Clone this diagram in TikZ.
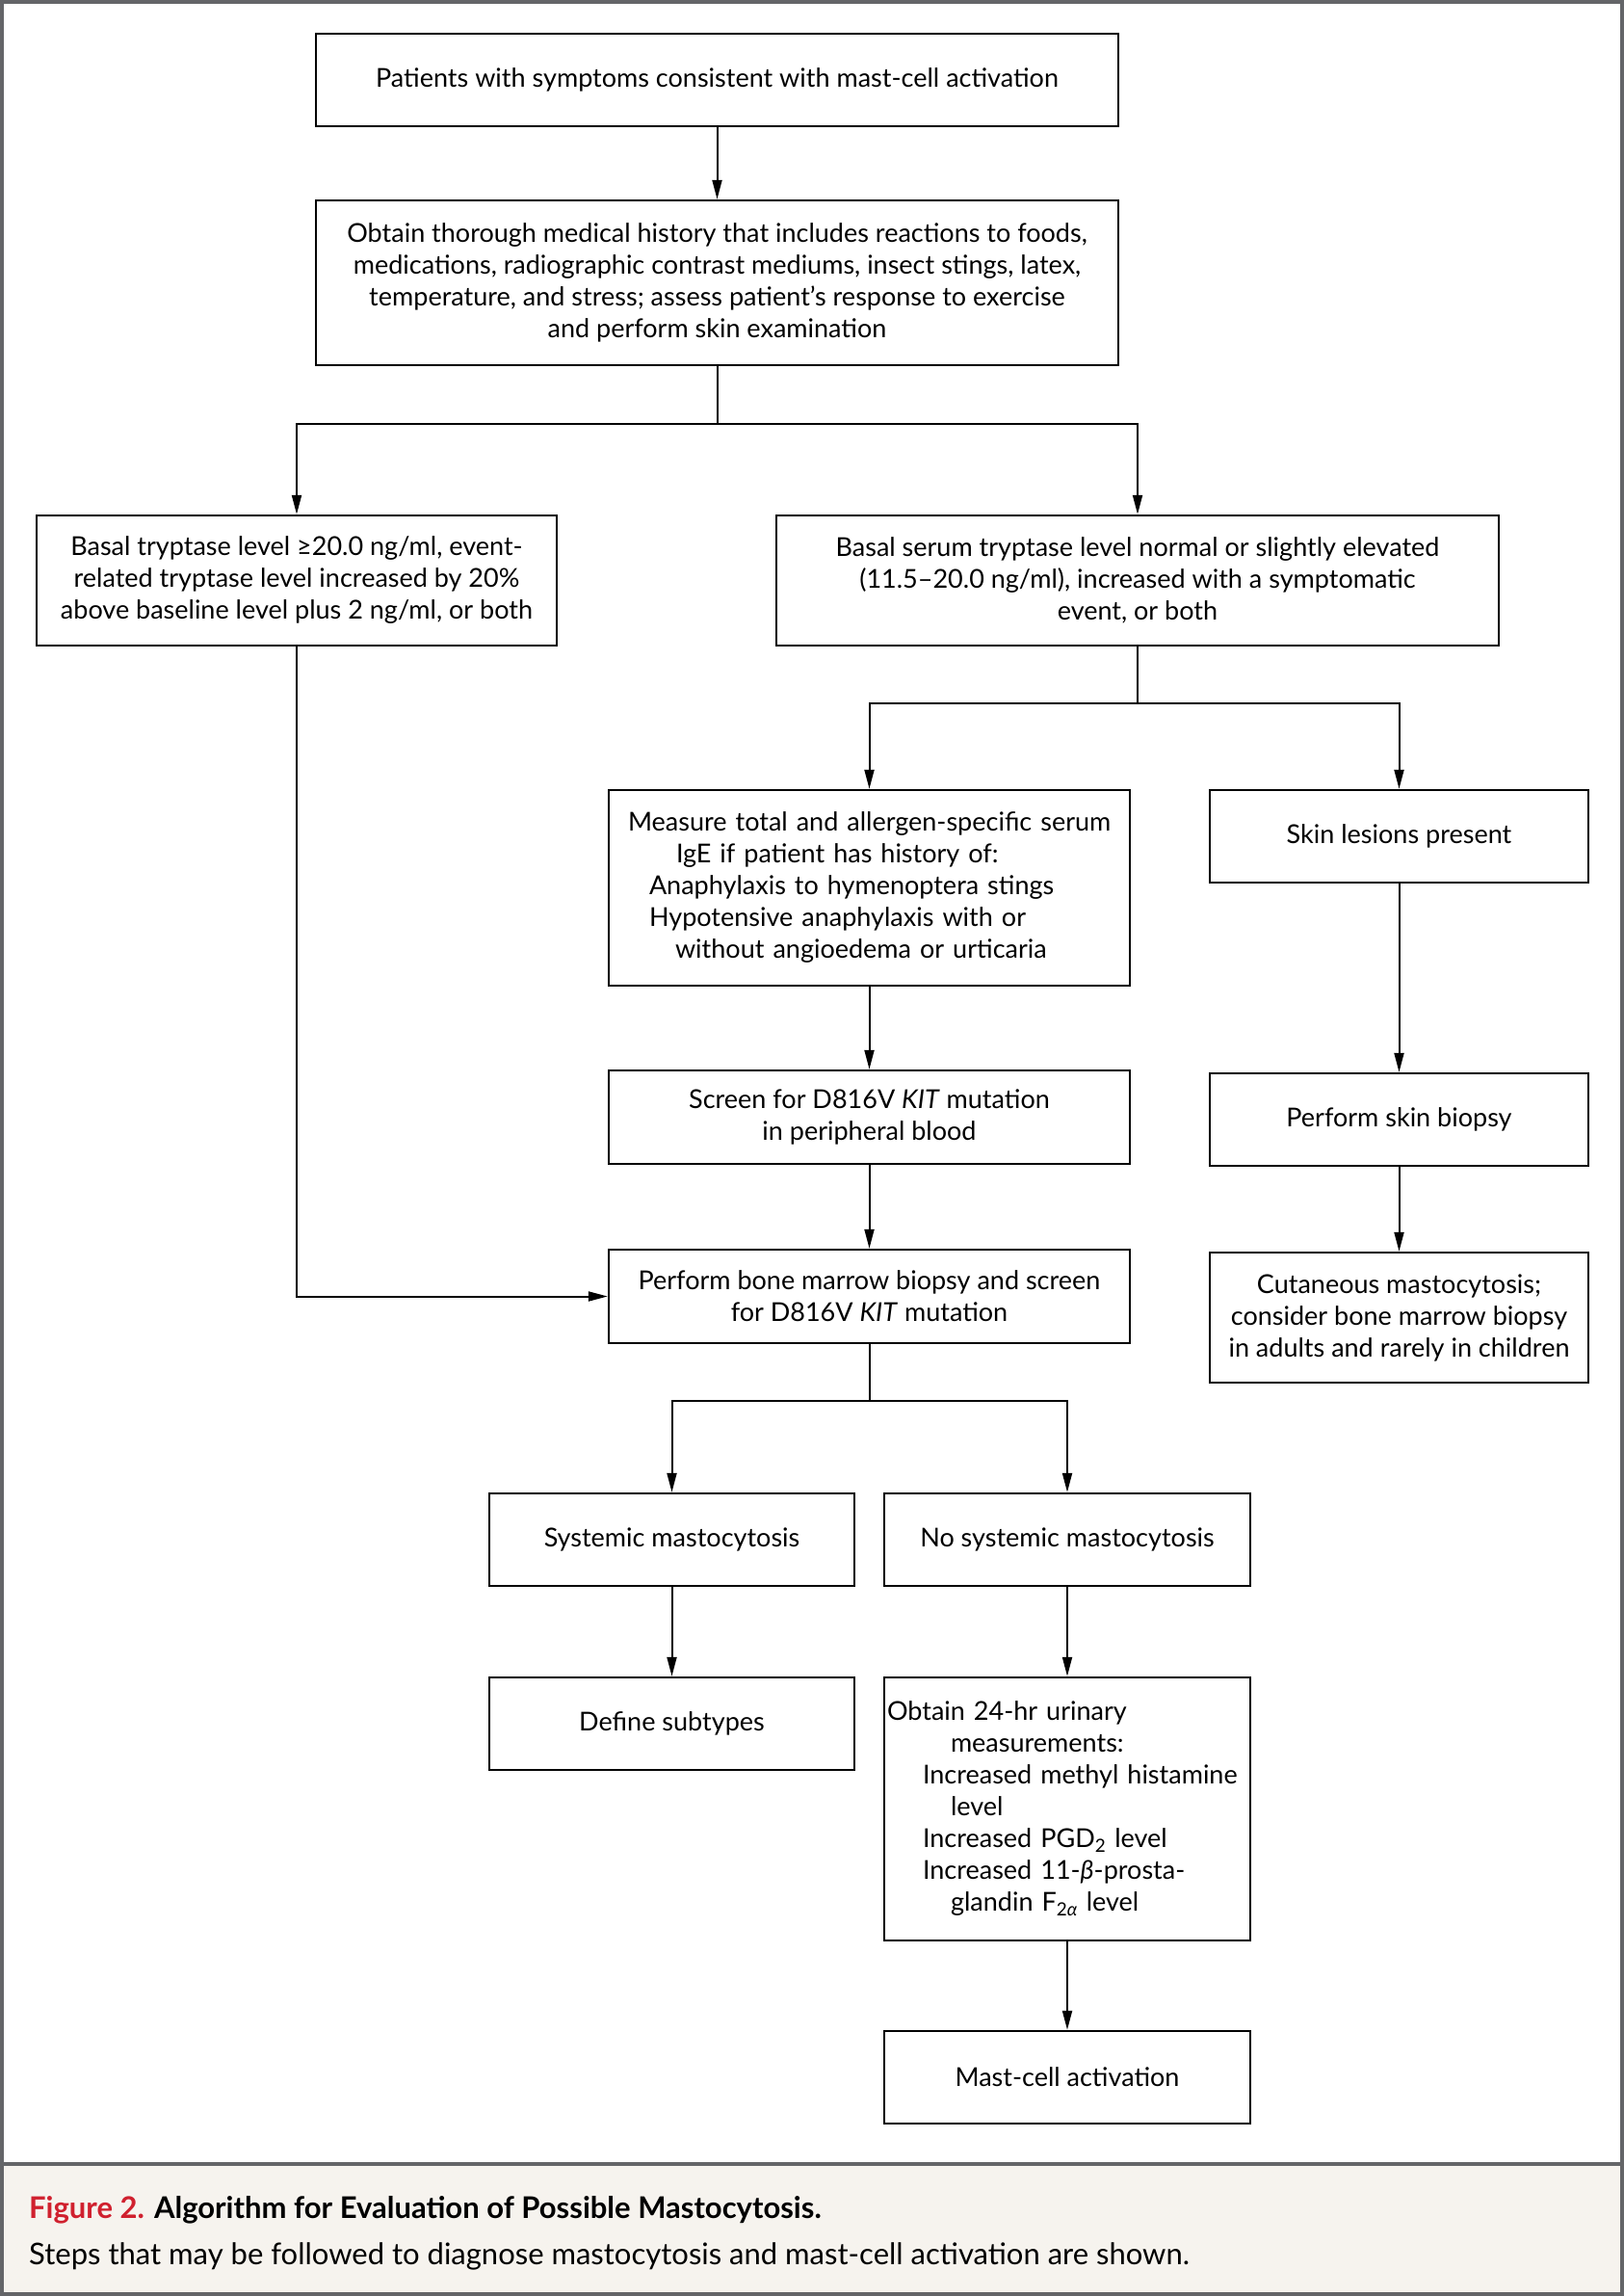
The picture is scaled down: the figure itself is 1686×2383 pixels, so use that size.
\documentclass[tikz,border=0pt]{standalone}
\usepackage{fontspec}
\setmainfont{Lato}
\usetikzlibrary{arrows.meta}
\definecolor{framegrey}{HTML}{646568}
\definecolor{capbg}{HTML}{F6F3EE}
\definecolor{nejmred}{HTML}{D0202E}
\begin{document}
\begin{tikzpicture}[x=1pt,y=-1pt,
  box/.style={draw=black, line width=2.4pt, rectangle, inner sep=0pt, align=center,
    font=\fontsize{27}{33}\selectfont},
  conn/.style={line width=2pt},
  arr/.style={line width=2pt, -{Triangle[length=20pt,width=10pt]}},
  captext/.style={anchor=base west, inner sep=0pt, font=\fontsize{31}{37}\selectfont}]
\useasboundingbox (0,0) rectangle (1686,2383);
\fill[white] (0,0) rectangle (1686,2383);
\fill[capbg] (0,2245) rectangle (1686,2383);
\draw[framegrey, line width=4pt] (2,2245.5) -- (1684,2245.5);
\draw[framegrey, line width=4pt] (2,2) rectangle (1684,2381);

\node[box, minimum width=833pt, minimum height=96pt] (b1) at (744.5,83)
  {Patients with symptoms consistent with mast-cell activation};
\node[box, minimum width=833pt, minimum height=171pt] (b2) at (744.5,293.5)
  {Obtain thorough medical history that includes reactions to foods,\\
   medications, radiographic contrast mediums, insect stings, latex,\\
   temperature, and stress; assess patient's response to exercise\\
   and perform skin examination};
\node[box, minimum width=540pt, minimum height=135pt] (b3) at (308,602.5)
  {Basal tryptase level ≥20.0 ng/ml, event-\\
   related tryptase level increased by 20\%\\
   above baseline level plus 2 ng/ml, or both};
\node[box, minimum width=750pt, minimum height=135pt] (b4) at (1181,602.5)
  {Basal serum tryptase level normal or slightly elevated\\
   (11.5–20.0 ng/ml), increased with a symptomatic\\
   event, or both};
\node[box, text width=525pt, inner xsep=8pt, align=left, minimum height=203pt] (b5) at (902.5,921.5)
  {\hspace*{12pt}Measure total and allergen-specific serum\\
   \hspace*{62pt}IgE if patient has history of:\\
   \hspace*{34pt}Anaphylaxis to hymenoptera stings\\
   \hspace*{34pt}Hypotensive anaphylaxis with or\\
   \hspace*{61pt}without angioedema or urticaria};
\node[box, minimum width=393pt, minimum height=96pt] (b6) at (1452.5,868)
  {Skin lesions present};
\node[box, minimum width=541pt, minimum height=97pt] (b7) at (902.5,1159.5)
  {Screen for D816V \textit{KIT} mutation\\ in peripheral blood};
\node[box, minimum width=541pt, minimum height=97pt] (b8) at (902.5,1345.5)
  {Perform bone marrow biopsy and screen\\ for D816V \textit{KIT} mutation};
\node[box, minimum width=393pt, minimum height=96pt] (b9) at (1452.5,1162)
  {Perform skin biopsy};
\node[box, minimum width=393pt, minimum height=135pt] (b10) at (1452.5,1367.5)
  {Cutaneous mastocytosis;\\ consider bone marrow biopsy\\ in adults and rarely in children};
\node[box, minimum width=379pt, minimum height=96pt] (b11) at (697.5,1598)
  {Systemic mastocytosis};
\node[box, minimum width=380pt, minimum height=96pt] (b12) at (1108,1598)
  {No systemic mastocytosis};
\node[box, minimum width=379pt, minimum height=96pt] (b13) at (697.5,1789)
  {Define subtypes};
\node[box, text width=374pt, inner xsep=3pt, align=left, minimum height=273pt] (b14) at (1108,1877.5)
  {Obtain 24-hr urinary\\
   \hspace*{66pt}measurements:\\
   \hspace*{37pt}Increased methyl histamine\\
   \hspace*{66pt}level\\
   \hspace*{37pt}Increased PGD\textsubscript{2} level\\
   \hspace*{37pt}Increased 11-\textit{β}-prosta-\\
   \hspace*{66pt}glandin F\textsubscript{2\textit{α}} level};
\node[box, minimum width=380pt, minimum height=96pt] (b15) at (1108,2156)
  {Mast-cell activation};

\coordinate (j1) at (744.5,440);
\coordinate (j2) at (1181,730);
\coordinate (j3) at (902.5,1454);

\draw[arr] (b1) -- (b2);
\draw[conn] (b2.south) -- (j1);
\draw[arr] (j1) -| (b3.north);
\draw[arr] (j1) -| (b4.north);
\draw[conn] (b4.south) -- (j2);
\draw[arr] (j2) -| (b5.north);
\draw[arr] (j2) -| (b6.north);
\draw[arr] (b5) -- (b7);
\draw[arr] (b7) -- (b8);
\draw[arr] (b3.south) |- (b8.west);
\draw[arr] (b6) -- (b9);
\draw[arr] (b9) -- (b10);
\draw[conn] (b8.south) -- (j3);
\draw[arr] (j3) -| (b11.north);
\draw[arr] (j3) -| (b12.north);
\draw[arr] (b11) -- (b13);
\draw[arr] (b12) -- (b14);
\draw[arr] (b14) -- (b15);

\node[captext] (cap1) at (30,2302)
  {\textbf{\textcolor{nejmred}{Figure 2.} Algorithm for Evaluation of Possible Mastocytosis.}};
\node[captext] (cap2) at (30,2350)
  {Steps that may be followed to diagnose mastocytosis and mast-cell activation are shown.};
\end{tikzpicture}
\end{document}
